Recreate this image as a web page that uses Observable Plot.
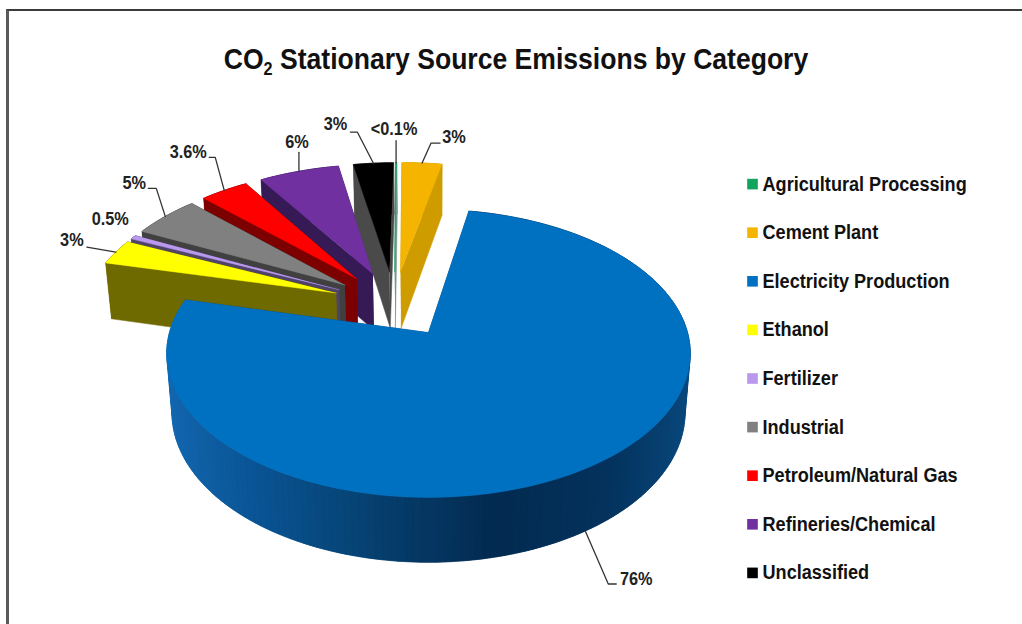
<!DOCTYPE html>
<html>
<head>
<meta charset="utf-8">
<script src="https://cdn.jsdelivr.net/npm/d3@7"></script>
<script src="https://cdn.jsdelivr.net/npm/@observablehq/plot@0.6"></script>
<style>
  html, body { margin: 0; padding: 0; background: #fff; }
  #page { position: relative; width: 1022px; height: 624px; overflow: hidden; font-family: "Liberation Sans", Arial, sans-serif; }
  #frame { position: absolute; left: 6px; top: 9px; right: -6px; bottom: -6px; border-left: 3px solid #5a5a5a; border-top: 2px solid #3c3c3c; }
  #title { height: 100px; margin: 0; box-sizing: border-box; padding: 42px 0 0 10px; text-align: center; font-size: 29.5px; line-height: 34px; font-weight: 700; color: #111; transform: scaleX(0.9); transform-origin: 516px 0; }
  #title sub { font-size: 18px; line-height: 0; vertical-align: -6px; }
  svg { display: block; }
</style>
</head>
<body>
<div id="page">
  <div id="frame"></div>
  <h1 id="title">CO<sub>2</sub> Stationary Source Emissions by Category</h1>
  <div id="chart"></div>
</div>
<script>
// Emission shares in percent, in legend (clockwise) order.
const categories = ["Agricultural Processing", "Cement Plant", "Electricity Production", "Ethanol", "Fertilizer", "Industrial", "Petroleum/Natural Gas", "Refineries/Chemical", "Unclassified"];
const shares = [0.1, 3, 76, 3, 0.5, 5, 3.6, 6, 3];
const shareLabels = ["<0.1%", "3%", "76%", "3%", "0.5%", "5%", "3.6%", "6%", "3%"];
const topColors = ["#12a45c", "#f5b400", "#0070c0", "#ffff00", "#b998ee", "#808080", "#ff0000", "#7030a0", "#000000"];
const sideColors = ["#6f9a8a", "#cf9c00", "#0a4f8c", "#6f6a00", "#4f4468", "#404040", "#7d0000", "#351a55", "#4a4a4a"];
const rimStops = ["#1469b2", "#0a5596", "#064272", "#032a50", "#03325c", "#0a4a80"];

// Drawing order of the slices: far ones first, the large front slice last.
const paintOrder = [1, 0, 8, 7, 6, 5, 4, 3, 2];

// Leader layout, relative to where each leader meets its slice: elbow points, then label centre.
const leaderPaths = [
  [[0, -22]],
  [[9, -20], [18, -20]],
  [[23, 53], [31, 53]],
  [[-29, -5]],
  [],
  [[-9, -28], [-17, -28]],
  [[-9, -33], [-15, -33]],
  [[0, -19]],
  [[-16, -31], [-23, -31]]
];
const labelOffsets = [[-2, -33], [32, -26], [51, 48], [-44, -12], [-23, -18], [-31, -33], [-36, -38], [-2, -29], [-38, -39]];

// View of the tilted pie: a plane point (u, v) at drop z goes to page coordinates.
const view = {cx: 428, cy: 332, a: 259, b: 141, k: 0.145, drop: 60, shrink: 0.02};
const project = (u, v, z) => {
  const w = 1 + view.k * v + view.shrink * z;
  return {x: view.cx + view.a * u / w, y: view.cy + (-view.b * v + view.drop * z) / w};
};

const degreesPerPercent = 3.6;
const firstAngle = -0.9;
const explode = 0.25;
const toRad = Math.PI / 180;
const slices = [];
{
  let angle = firstAngle;
  categories.forEach((category, i) => {
    const sweep = shares[i] * degreesPerPercent;
    slices.push({i, category, start: angle * toRad, end: (angle + sweep) * toRad, mid: (angle + sweep / 2) * toRad});
    angle += sweep;
  });
  // The electricity slice's apex is the plane origin; the others sit relative to it.
  const ref = slices[2];
  const ox = -explode * Math.sin(ref.mid), oy = -explode * Math.cos(ref.mid);
  for (const s of slices) {
    s.ax = ox + explode * Math.sin(s.mid);
    s.ay = oy + explode * Math.cos(s.mid);
  }
}
const rimPoint = (s, t, z) => project(s.ax + Math.sin(t), s.ay + Math.cos(t), z);

const rimColor = d3.scaleLinear().domain(d3.range(rimStops.length).map((j) => -1 + 2 * j / (rimStops.length - 1))).range(rimStops).interpolate(d3.interpolateRgb);

// Polygons, listed in painting order.
const polygons = [];
let polyId = 0;
const addPolygon = (pts, fill) => {
  const id = polyId++;
  for (const p of pts) polygons.push({id, x: p.x, y: p.y, fill});
};
for (const i of paintOrder) {
  const s = slices[i];
  const apexTop = project(s.ax, s.ay, 0), apexBottom = project(s.ax, s.ay, 1);
  const wall = (t) => ({depth: s.ay + 0.5 * Math.cos(t), pts: [apexTop, rimPoint(s, t, 0), rimPoint(s, t, 1), apexBottom], fill: sideColors[i]});
  const walls = [wall(s.start), wall(s.end)];
  const stepAngle = 1.5 * toRad;
  const steps = Math.max(2, Math.ceil((s.end - s.start) / stepAngle));
  const dt = (s.end - s.start) / steps;
  const ts = d3.range(steps + 1).map((j) => s.start + dt * j);
  const rims = [];
  for (let j = 0; j < steps; j++) {
    // Neighbouring rim strips overlap a little so no seams show between them.
    const t0 = ts[j] - (j ? dt * 0.5 : 0), t1 = ts[j + 1] + (j < steps - 1 ? dt * 0.5 : 0), m = ts[j] + dt / 2;
    rims.push({
      depth: s.ay + Math.cos(m),
      pts: [rimPoint(s, t0, 0), rimPoint(s, m, 0), rimPoint(s, t1, 0), rimPoint(s, t1, 1), rimPoint(s, m, 1), rimPoint(s, t0, 1)],
      fill: i === 2 ? rimColor(Math.sin(m)) : sideColors[i]
    });
  }
  for (const f of [...walls, ...rims].sort((p, q) => q.depth - p.depth)) addPolygon(f.pts, f.fill);
  addPolygon([apexTop, ...ts.map((t) => rimPoint(s, t, 0))], topColors[i]);
}

// Leaders and value labels, anchored at the middle of each slice's rim.
const leaderPoints = [];
const labels = [];
slices.forEach((s, i) => {
  const anchor = rimPoint(s, s.mid, i === 2 ? 1 : 0);
  const path = [[0, 0], ...leaderPaths[i]];
  if (leaderPaths[i].length) for (const [dx, dy] of path) leaderPoints.push({i, x: anchor.x + dx, y: anchor.y + dy});
  labels.push({text: shareLabels[i], x: anchor.x + labelOffsets[i][0], y: anchor.y + labelOffsets[i][1]});
});

// Legend rows.
const legendTop = 183.6, legendStep = 48.6, legendX = 752;
const legend = categories.map((name, i) => ({name, fill: topColors[i], y: legendTop + i * legendStep}));

const chart = Plot.plot({
  width: 1022,
  height: 524,
  margin: 0,
  x: {domain: [0, 1022], range: [0, 1022], axis: null},
  y: {domain: [100, 624], range: [0, 524], axis: null},
  style: {fontFamily: "'Liberation Sans', Arial, sans-serif", background: "transparent"},
  marks: [
    Plot.line(polygons, {x: "x", y: "y", z: "id", fill: "fill", stroke: "fill", strokeWidth: 0.5, strokeLinejoin: "round"}),
    Plot.line(leaderPoints, {x: "x", y: "y", z: "i", stroke: "#333", strokeWidth: 1.3}),
    Plot.text(labels, {x: "x", y: "y", text: "text", fontSize: 18, fontWeight: 700, fill: "#222"}),
    Plot.dot(legend, {x: legendX, y: "y", symbol: "square", r: 6, fill: "fill", stroke: "none"}),
    Plot.text(legend, {x: legendX + 10, y: "y", text: "name", textAnchor: "start", fontSize: 20, fontWeight: 700, fill: "#111"})
  ]
});
document.getElementById("chart").append(chart);

// The chart's type is set a little condensed.
d3.select(chart).selectAll("text").each(function () {
  this.setAttribute("textLength", this.getComputedTextLength() * 0.905);
  this.setAttribute("lengthAdjust", "spacingAndGlyphs");
});
</script>
</body>
</html>
